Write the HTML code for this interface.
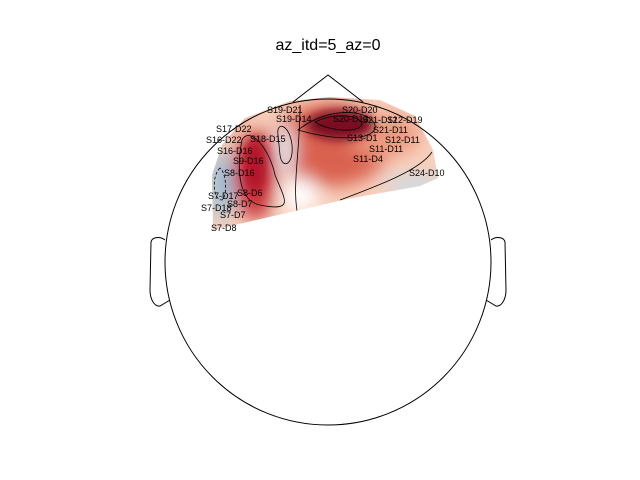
<!DOCTYPE html>
<html><head><meta charset="utf-8"><style>
body{margin:0;background:#fff;width:640px;height:480px;overflow:hidden}
svg{display:block;font-family:"Liberation Sans","DejaVu Sans",sans-serif}
</style></head><body>
<svg width="640" height="480" viewBox="0 0 640 480">
<defs>
<clipPath id="clip"><polygon points="213,230 212,175 222,145 245,118 290,101 330,97 380,100 415,116 433,150 438,178 420,186 347,199"/></clipPath>
<filter id="blur" x="-50%" y="-50%" width="200%" height="200%"><feGaussianBlur stdDeviation="9"/></filter>
<filter id="blur2" x="-50%" y="-50%" width="200%" height="200%"><feGaussianBlur stdDeviation="5"/></filter>
</defs>
<text x="328" y="50" font-size="16" text-anchor="middle">az_itd=5_az=0</text>
<g clip-path="url(#clip)">
<rect x="200" y="90" width="250" height="150" fill="#f8d0bc"/>
<g filter="url(#blur)">
<ellipse cx="330" cy="145" rx="60" ry="42" fill="#d9624f"/>
<ellipse cx="255" cy="175" rx="22" ry="45" fill="#c9343a"/>
<ellipse cx="385" cy="135" rx="35" ry="22" fill="#ec9a80"/>
<ellipse cx="222" cy="185" rx="10" ry="35" fill="#8fbfdb"/>
<ellipse cx="285" cy="150" rx="9" ry="25" fill="#e8f0f5"/>
<ellipse cx="300" cy="195" rx="18" ry="18" fill="#fff"/>
<ellipse cx="415" cy="185" rx="30" ry="9" fill="#c6dcea"/>
<ellipse cx="232" cy="122" rx="20" ry="10" fill="#f4bba3"/>
</g>
<g filter="url(#blur2)">
<ellipse cx="340" cy="125" rx="34" ry="15" fill="#7a0822"/>
<ellipse cx="255" cy="165" rx="12" ry="28" fill="#b2182b"/>
</g>
<g fill="none" stroke="#000" stroke-width="0.8">
<path d="M298,130 C330,105 370,110 375,125 C378,140 340,142 298,130Z"/>
<path d="M315,122 C335,112 360,115 362,124 C360,133 330,132 315,122Z"/>
<path d="M278,135 C276,120 290,125 292,145 C294,165 282,170 280,155Z"/>
<path d="M242,140 C250,125 270,150 275,175 C285,200 295,212 260,205 C235,200 238,160 242,140Z"/>
<path d="M300,105 C300,160 290,190 300,225"/>
<path d="M340,200 C380,185 420,170 432,152"/>
<path d="M220,168 C212,175 212,200 222,200 C228,195 226,172 220,168Z" stroke-dasharray="3,2"/>
</g>
</g>
<g fill="none" stroke="#000" stroke-width="1">
<circle cx="328" cy="262" r="163"/>
<polyline points="293,102 328,75 363,102"/>
<path d="M165,240 C160,236 152,237 151,242 L150,290 C150,300 155,307 160,306 L170,300"/>
<path d="M491,240 C496,236 504,237 505,242 L506,290 C506,300 501,307 496,306 L486,300"/>
</g>
<g id="labels" font-size="9"></g>
<script>
const names=["S19_D21","S19_D14","S20_D20","S20_D13","S21_D12","S12_D19","S21_D11","S12_D11","S13_D1","S11_D11","S11_D4","S24_D10","S17_D22","S16_D22","S18_D15","S16_D16","S9_D16","S8_D16","S7_D17","S8_D6","S7_D18","S8_D7","S7_D7","S7_D8"];
const xs=[267,276,342,333,362,387,373,385,347,369,353,409,216,206,250,217,233,224,208,237,201,227,220,211];
const ys=[113,122,113,122,123,123,133,143,141,152,162,176,132,143,142,154,164,176,199,196,211,207,218,231];
const g=document.getElementById('labels');
names.forEach((n,i)=>{
 const t=document.createElementNS('http://www.w3.org/2000/svg','text');
 t.setAttribute('x',xs[i]);t.setAttribute('y',ys[i]);
 t.textContent=n.replace('_','-');
 
 
 g.appendChild(t);
});
</script>
</svg>
</body></html>
